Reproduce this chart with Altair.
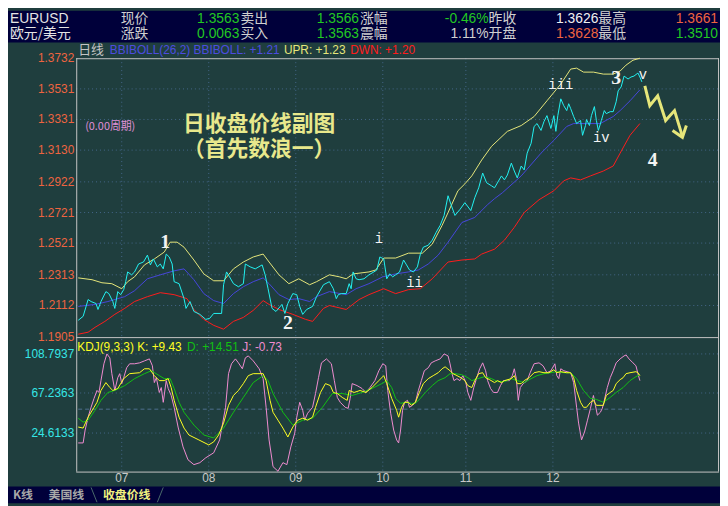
import altair as alt
import pandas as pd

# ---------------- data ----------------
close_day = [0, 1.25, 2.5, 3.25, 4.5, 5, 5.75, 7, 7.75, 8.75,
             9.25, 10, 10.75, 11.5, 12, 12.5, 13.5, 14.25, 15.25, 16.5,
             17.5, 18.25, 19, 20, 20.75, 21.5, 22.25, 23, 23.75, 24.25,
             25.5, 26.75, 27.25, 28.25, 29.25, 30.75, 32.25, 33.25, 34.25, 36.25,
             36.75, 37.5, 38.25, 39.25, 40.5, 41.75, 42.25, 43.5, 44.75, 46.5,
             47.25, 48, 49, 50, 51.5, 52.25, 53, 54.25, 55.25, 56,
             56.75, 57.75, 59.25, 60.25, 62, 63.5, 64.5, 65.25, 65.75, 66.5,
             67.75, 68.5, 69, 69.5, 70.25, 71, 72.25, 73.5, 74.75, 75.5,
             76.25, 77.25, 78, 78.75, 79.5, 80.25, 81.25, 82.25, 83, 83.75,
             84.75, 85.75, 86.5, 87.25, 88.5, 89.5, 90.5, 91.5, 92.5, 93.5,
             94.25, 95.25, 96.5, 97.75, 99.25, 100.25, 101.25, 102.25, 103.25, 104.5,
             105.25, 107, 107.75, 108.5, 109.5, 110.25, 111, 112, 112.75, 113.5,
             114.5, 115.25, 116, 117, 117.75, 118.5, 119.5, 120.25, 120.75, 121.25,
             122, 122.75, 123.5, 124, 124.5, 125.25, 126, 127, 127.5, 128.25,
             128.5, 129.25, 129.75, 130.5, 131, 131.5, 132.25, 133, 133.5, 134.5,
             135.25, 136, 136.5, 137.25, 138, 139, 139.75, 140.5, 141.5, 142,
             142.5]
close_px = [1.2015, 1.2041, 1.2151, 1.2138, 1.2125, 1.2086, 1.2138, 1.2203, 1.2190, 1.2138,
            1.2093, 1.2203, 1.2183, 1.2216, 1.2268, 1.2332, 1.2313, 1.2332, 1.2384, 1.2397,
            1.2442, 1.2378, 1.2417, 1.2365, 1.2384, 1.2352, 1.2449, 1.2430, 1.2384, 1.2268,
            1.2255, 1.2157, 1.2093, 1.2138, 1.2073, 1.2054, 1.2021, 1.2028, 1.2060, 1.2060,
            1.2248, 1.2332, 1.2300, 1.2255, 1.2235, 1.2255, 1.2384, 1.2365, 1.2352, 1.2378,
            1.2313, 1.2222, 1.2093, 1.2073, 1.2119, 1.2060, 1.2125, 1.2190, 1.2183, 1.2106,
            1.2054, 1.2086, 1.2106, 1.2170, 1.2248, 1.2268, 1.2222, 1.2157, 1.2183, 1.2190,
            1.2190, 1.2255, 1.2222, 1.2332, 1.2287, 1.2281, 1.2287, 1.2313, 1.2332, 1.2345,
            1.2430, 1.2417, 1.2287, 1.2319, 1.2300, 1.2313, 1.2332, 1.2410, 1.2378, 1.2345,
            1.2332, 1.2365, 1.2449, 1.2494, 1.2507, 1.2540, 1.2592, 1.2637, 1.2702, 1.2831,
            1.2773, 1.2702, 1.2741, 1.2786, 1.2734, 1.2818, 1.2883, 1.2980, 1.2916, 1.2896,
            1.2883, 1.2961, 1.2935, 1.2967, 1.3045, 1.2993, 1.2948, 1.3026, 1.3000, 1.3110,
            1.3175, 1.3285, 1.3304, 1.3259, 1.3317, 1.3356, 1.3272, 1.3356, 1.3253, 1.3356,
            1.3466, 1.3421, 1.3389, 1.3434, 1.3402, 1.3350, 1.3304, 1.3324, 1.3227, 1.3291,
            1.3330, 1.3291, 1.3356, 1.3415, 1.3324, 1.3259, 1.3324, 1.3389, 1.3369, 1.3382,
            1.3382, 1.3447, 1.3518, 1.3544, 1.3615, 1.3596, 1.3609, 1.3615, 1.3635, 1.3609,
            1.3577]

upr_day = [0, 3.5, 6, 8.5, 11, 12.5, 14.25, 16.75, 19.25, 21.75,
           23.25, 25, 26.75, 29.25, 31.75, 34.25, 36.75, 39.25, 41.75, 44.25,
           46.75, 48.25, 50.75, 53.25, 55.75, 58.5, 60.25, 63.5, 66, 67.75,
           69.5, 73.5, 75.25, 77.25, 80.25, 83.5, 87, 89.5, 92, 93.5,
           96, 97.75, 99.5, 102, 104.5, 108.5, 112, 115.25, 118.5, 122,
           124.5, 126, 127.75, 130.25, 132.75, 135.25, 137, 138.5, 140.25, 142]
upr_px = [1.2293, 1.2281, 1.2261, 1.2255, 1.2222, 1.2268, 1.2300, 1.2378, 1.2417, 1.2462,
          1.2527, 1.2527, 1.2494, 1.2410, 1.2319, 1.2274, 1.2274, 1.2352, 1.2397, 1.2430,
          1.2449, 1.2397, 1.2313, 1.2255, 1.2287, 1.2248, 1.2268, 1.2313, 1.2300, 1.2287,
          1.2319, 1.2332, 1.2345, 1.2423, 1.2423, 1.2455, 1.2455, 1.2514, 1.2637, 1.2721,
          1.2864, 1.2909, 1.2961, 1.3065, 1.3155, 1.3253, 1.3291, 1.3350, 1.3453, 1.3563,
          1.3661, 1.3667, 1.3641, 1.3641, 1.3628, 1.3628, 1.3648, 1.3687, 1.3719, 1.3732]

mid_day = [0, 4.25, 7.5, 11.75, 14.25, 17.5, 20.75, 24.25, 26.75, 29.25,
           31.75, 34.25, 36.75, 39.25, 41.75, 44.25, 46.75, 48.25, 50.75, 53.25,
           55.75, 58.5, 60.25, 63.5, 67.75, 70.25, 73.5, 77, 80.25, 83.5,
           86, 88.5, 91, 93.5, 97, 100.25, 103.5, 105.25, 107.25, 112,
           117, 120.25, 123.5, 125.25, 128.5, 132, 135.25, 137, 139.5, 142]
mid_px = [1.2106, 1.2119, 1.2138, 1.2170, 1.2209, 1.2287, 1.2313, 1.2339, 1.2352, 1.2281,
          1.2190, 1.2144, 1.2125, 1.2190, 1.2235, 1.2268, 1.2293, 1.2255, 1.2183, 1.2151,
          1.2157, 1.2138, 1.2170, 1.2203, 1.2183, 1.2222, 1.2255, 1.2300, 1.2319, 1.2332,
          1.2345, 1.2384, 1.2442, 1.2527, 1.2656, 1.2689, 1.2773, 1.2812, 1.2851, 1.2961,
          1.3110, 1.3194, 1.3285, 1.3304, 1.3304, 1.3304, 1.3350, 1.3389, 1.3453, 1.3525]

dwn_day = [0, 2.5, 4.25, 6.75, 9.25, 11.75, 14.25, 17.5, 20.75, 24.25,
           27.5, 29.25, 31.75, 34.25, 36.75, 39.25, 41.75, 44.25, 46.75, 48.25,
           50.75, 54.25, 57.5, 59.25, 62, 63.5, 67.75, 71, 73.5, 77.25,
           80.25, 83.5, 86.5, 89.5, 93.5, 97, 100.25, 102, 105.25, 107.75,
           110.25, 112.75, 116.5, 120.25, 122.75, 124.5, 127, 129.5, 132.75, 135.25,
           137, 139.5, 142]
dwn_px = [1.1924, 1.1937, 1.1969, 1.2008, 1.2054, 1.2093, 1.2138, 1.2170, 1.2196, 1.2183,
          1.2157, 1.2086, 1.2021, 1.1982, 1.1957, 1.2008, 1.2034, 1.2080, 1.2144, 1.2119,
          1.2086, 1.2054, 1.2021, 1.2008, 1.2093, 1.2112, 1.2086, 1.2151, 1.2183, 1.2222,
          1.2190, 1.2216, 1.2222, 1.2287, 1.2397, 1.2410, 1.2417, 1.2449, 1.2481, 1.2540,
          1.2624, 1.2721, 1.2805, 1.2864, 1.2929, 1.2948, 1.2935, 1.2961, 1.2993, 1.3026,
          1.3110, 1.3227, 1.3304]

k_pts = [(0, 31.0), (1.25, 29.9), (2.5, 41.5), (4, 52.0), (4.75, 57.3), (5.75, 69.9), (7, 78.3),
         (8, 73.0), (8.75, 69.9), (10, 72.0), (11.5, 82.5), (13, 87.8), (15.5, 88.8), (16.75, 93.0),
         (18, 93.0), (19.25, 85.7), (20.5, 80.4), (21.75, 80.4), (22.75, 82.5), (23.5, 73.0),
         (24.25, 59.4), (25.5, 41.5), (26.75, 29.9), (28, 22.5), (30.5, 17.3), (33, 12.0),
         (34.25, 15.2), (35.5, 22.5), (36.75, 35.2), (38, 54.1), (39.25, 64.6), (40.5, 69.9),
         (41.75, 77.2), (43, 85.7), (44.25, 87.8), (46.75, 87.8), (47.5, 80.4), (48.5, 59.4),
         (49.25, 46.7), (50.5, 38.3), (51.75, 29.9), (53, 20.4), (54.25, 31.0), (55.5, 38.3),
         (56.75, 40.4), (58, 38.3), (59.25, 41.5), (60, 52.0), (61.25, 67.8), (62.5, 77.2),
         (63.75, 75.1), (64.5, 67.8), (65.5, 66.7), (66.75, 62.5), (68, 59.4), (68.5, 69.9),
         (69.75, 67.8), (71.25, 69.9), (72.75, 67.8), (74.25, 73.0), (76, 80.4), (77.25, 85.7),
         (78, 77.2), (79.25, 61.5), (80.5, 48.8), (81, 41.5), (81.75, 52.0), (82.5, 57.3),
         (83.5, 57.3), (84.25, 54.1), (85.25, 57.3), (86.25, 67.8), (87.25, 77.2), (88.5, 82.5),
         (89.75, 85.7), (91, 88.8), (92, 93.0), (92.75, 95.1), (94, 90.9), (94.75, 87.8),
         (95.75, 85.7), (96.75, 83.5), (97.75, 80.4), (98.5, 75.1), (99.5, 73.0), (100.25, 80.4),
         (101.25, 87.8), (102.25, 88.8), (103, 83.5), (104, 81.4), (105.25, 78.3), (106, 80.4),
         (107, 78.3), (107.75, 80.4), (109.5, 82.5), (110.25, 85.7), (111, 77.2), (112, 77.2),
         (112.75, 80.4), (114, 83.5), (115.25, 88.8), (116.5, 89.9), (117.75, 88.8), (119, 88.8),
         (120.25, 92.0), (121, 88.8), (122, 89.9), (123.5, 88.8), (124.5, 88.8), (125.25, 83.5),
         (126, 69.9), (127, 57.3), (127.75, 52.0), (128.5, 52.0), (129.5, 57.3), (130.25, 59.4),
         (131, 54.1), (132.75, 54.1), (133.5, 64.6), (134.5, 67.8), (135.25, 69.9), (136, 77.2),
         (137, 81.4), (137.75, 83.5), (138.5, 87.8), (139.5, 88.8), (141, 89.9), (141.5, 88.8),
         (142, 85.7)]

d_pts = [(0, 40.4), (1.25, 36.2), (2.5, 38.3), (4.25, 48.8), (5.75, 59.4), (7.5, 67.8), (9.25, 69.9),
         (11.75, 75.1), (14.25, 82.5), (16.75, 87.8), (18.5, 90.9), (20.5, 85.7), (21.75, 82.5),
         (23.25, 82.5), (24.25, 72.0), (25.5, 57.3), (26.75, 46.7), (29.25, 33.1), (31.75, 22.5),
         (34.25, 19.4), (36.75, 29.9), (39.25, 46.7), (41.75, 62.5), (44.25, 78.3), (46.75, 85.7),
         (48, 80.4), (49.25, 66.7), (51.75, 46.7), (54.25, 33.1), (56.75, 38.3), (59.25, 40.4),
         (61.75, 52.0), (64.25, 66.7), (66.75, 66.7), (69.25, 64.6), (71.75, 67.8), (74.25, 72.0),
         (76.75, 77.2), (78, 80.4), (79.25, 73.0), (80.25, 61.5), (81.5, 56.2), (82.75, 57.3),
         (84.25, 56.2), (85.25, 56.2), (86.5, 61.5), (87.75, 67.8), (89.5, 75.1), (91, 80.4),
         (92.75, 83.5), (94, 87.8), (95.25, 87.8), (97, 86.7), (98.5, 83.5), (99.5, 80.4),
         (101, 82.5), (102.75, 84.6), (104.5, 82.5), (106, 79.3), (107.75, 79.3), (109.5, 82.5),
         (111, 80.4), (112.75, 78.3), (114.5, 82.5), (116, 85.7), (117.75, 87.8), (119.5, 88.8),
         (121, 89.9), (122.75, 88.8), (124.5, 88.8), (126, 82.5), (127.75, 69.9), (129.5, 61.5),
         (131, 60.4), (132.75, 57.3), (134.5, 62.5), (136, 67.8), (137.75, 73.0), (139.5, 80.4),
         (141, 84.6), (142, 86.7)]

j_pts = [(0, 14.1), (1.25, 14.1), (1.75, 27.8), (2.5, 41.5), (3.25, 52.0), (4, 61.5), (4.75, 69.9),
         (5.25, 67.8), (5.75, 80.4), (6.5, 98.3), (7.25, 108.8), (8, 104.6), (8.5, 87.8), (9.25, 69.9),
         (10, 83.5), (10.5, 87.8), (11, 77.2), (11.5, 83.5), (12.25, 94.1), (13, 98.3), (14.25, 98.3),
         (15.5, 99.3), (16.75, 101.4), (18, 103.5), (18.75, 96.2), (19.25, 78.3), (19.75, 83.5),
         (20.5, 67.8), (21, 73.0), (21.5, 57.3), (22.25, 80.4), (22.75, 72.0), (23.5, 64.6),
         (24.25, 52.0), (25.25, 31.0), (26.5, 9.9), (27.75, -3.8), (29.25, -9.0), (30.75, -6.9),
         (32.25, -1.7), (34.25, 3.6), (35.75, 17.3), (37.25, 52.0), (38, 87.8), (38.75, 98.3),
         (39.75, 103.5), (40.5, 99.3), (41.5, 93.0), (42.25, 104.6), (43, 106.7), (44.25, 101.4),
         (45.75, 93.0), (46.75, 82.5), (47.5, 52.0), (48.25, 17.3), (49.25, -11.1), (50.5, -16.0),
         (51.75, -6.9), (52.75, -9.0), (53.75, 9.9), (54.75, 24.6), (55.25, 41.5), (56, 57.3),
         (56.75, 48.8), (57.25, 38.3), (58, 45.7), (59.25, 52.0), (60, 66.7), (60.75, 83.5),
         (61.5, 99.3), (62.75, 103.5), (64, 98.3), (64.75, 80.4), (65.5, 62.5), (66.25, 57.3),
         (67.5, 52.0), (68.25, 50.9), (68.75, 61.5), (69.25, 77.2), (70.5, 75.1), (71.75, 72.0),
         (72.75, 67.8), (73.75, 73.0), (75, 80.4), (76, 90.9), (77, 98.3), (77.75, 96.2),
         (78.25, 69.9), (79, 45.7), (79.75, 27.8), (80.5, 17.3), (81, 14.1), (81.5, 27.8),
         (82, 48.8), (82.5, 57.3), (83.25, 59.4), (83.75, 52.0), (84.5, 54.1), (85.25, 57.3),
         (86, 69.9), (86.75, 80.4), (87.5, 90.9), (88.5, 94.1), (89.25, 99.3), (90.25, 101.4),
         (91.5, 103.5), (92.5, 108.8), (93.5, 106.7), (94, 98.3), (94.5, 87.8), (95, 80.4),
         (95.75, 82.5), (96.5, 80.4), (97.25, 85.7), (98, 78.3), (98.5, 67.8), (99.25, 59.4),
         (100, 73.0), (100.75, 83.5), (101.5, 93.0), (102.25, 99.3), (103, 90.9), (103.5, 80.4),
         (104.25, 72.0), (105, 67.8), (106, 67.8), (106.75, 75.1), (107.5, 80.4), (109, 80.4),
         (109.75, 85.7), (110.25, 93.0), (110.75, 82.5), (111.25, 59.4), (111.75, 73.0),
         (112.5, 77.2), (113.5, 80.4), (114.25, 88.8), (115.25, 98.3), (116.5, 99.3), (117.5, 96.2),
         (118.5, 88.8), (119.5, 90.9), (120.5, 98.3), (121, 85.7), (121.5, 82.5), (122, 93.0),
         (122.75, 90.9), (124.5, 88.8), (125.25, 78.3), (126, 52.0), (126.5, 35.2), (127.25, 17.3),
         (128, 25.7), (128.75, 38.3), (129.5, 50.9), (130.25, 64.6), (130.75, 54.1), (131.25, 43.6),
         (132, 46.7), (132.5, 50.9), (133, 59.4), (133.75, 73.0), (134.5, 83.5), (135.25, 90.9),
         (136, 99.3), (137, 103.5), (138, 106.7), (138.5, 107.7), (139.25, 103.5), (140.25, 99.3),
         (141, 96.2), (141.5, 87.8), (142, 80.4)]

kdj_mid_line = 50
kdj_mid_span = [0, 142]

price_ticks = [1.1905, 1.2112, 1.2313, 1.2521, 1.2721, 1.2922, 1.3130, 1.3331, 1.3531, 1.3732]
kdj_ticks = [24.6133, 67.2363, 108.7937]
month_days = [11, 33, 55, 77, 98, 120]
month_labels = ["07", "08", "09", "10", "11", "12"]

wave_text = ["1", "2", "3", "4"]
wave_day = [22, 53, 136, 145.25]
wave_px = [1.2527, 1.1995, 1.3602, 1.3065]
sub_text = ["i", "ii", "iii", "iv", "v"]
sub_day = [76, 85, 122, 132.25, 142.75]
sub_px = [1.2546, 1.2261, 1.3557, 1.3207, 1.3622]

proj_day = [143.25, 144.5, 146.5, 148.5, 150.75, 152.75]
proj_px = [1.3551, 1.3421, 1.3486, 1.3324, 1.3389, 1.3220]
head_day = [150.25, 152.75, 153.75]
head_px = [1.3259, 1.3214, 1.3291]

quote_row1_names = ["现价", "卖出", "涨幅", "昨收", "最高"]
quote_row1_values = ["1.3563", "1.3566", "-0.46%", "1.3626", "1.3661"]
quote_row2_names = ["涨跌", "买入", "震幅", "开盘", "最低"]
quote_row2_values = ["0.0063", "1.3563", "1.11%", "1.3628", "1.3510"]

# ---------------- layout & style ----------------
W, H = 720, 498
X0, X1 = 69, 719
P_TOP, P_BOT = 48, 330
K_TOP, K_BOT = 330, 466
HEAD_H = 32
ROW1, ROW2 = 8, 24

TEAL = "#1f3e3e"
NAVY = "#00003a"
GRID = "#45678a"
BORDER = "#c4c4c4"
ORANGE = "#ee6440"
GREEN = "#22c822"
WHITE = "#f0f0f0"
LGRAY = "#d0d0d0"
CYAN = "#22f2f2"
YEL = "#e6e67a"
BLUE = "#4646dc"
RED = "#ff1c1c"
KCOL = "#ffff22"
DCOL = "#12c012"
JCOL = "#f08cd0"
LAT = "Liberation Sans"
CJK = "Noto Sans CJK SC"

xs = alt.Scale(domain=[-0.5, 162], range=[X0, X1])
ps = alt.Scale(domain=[1.1905, 1.3732], range=[P_BOT, P_TOP], zero=False, nice=False)
ks = alt.Scale(domain=[-16.4, 126.7], range=[K_BOT, K_TOP], zero=False, nice=False)

one = pd.DataFrame({"a": [0]})


def txt(s, x, y, color, size=12, align="left", font=LAT, weight="normal"):
    return alt.Chart(one).mark_text(
        text=s, align=align, baseline="middle", color=color,
        fontSize=size, font=font, fontWeight=weight
    ).encode(x=alt.value(x), y=alt.value(y))


def seg(x1, y1, x2, y2, color, width=1, dash=None):
    kw = {"color": color, "strokeWidth": width}
    if dash:
        kw["strokeDash"] = dash
    return alt.Chart(one).mark_rule(**kw).encode(
        x=alt.value(x1), y=alt.value(y1), x2=alt.value(x2), y2=alt.value(y2))


def rect(x1, y1, x2, y2, color):
    return alt.Chart(one).mark_rect(color=color).encode(
        x=alt.value(x1), y=alt.value(y1), x2=alt.value(x2), y2=alt.value(y2))


def series(days, vals, color, scale, width=1.0):
    df = pd.DataFrame({"day": days, "v": vals})
    return alt.Chart(df).mark_line(color=color, strokeWidth=width).encode(
        x=alt.X("day:Q", scale=xs, axis=None),
        y=alt.Y("v:Q", scale=scale, axis=None))


layers = []
# backgrounds
layers.append(rect(0, 0, W, HEAD_H, NAVY))
layers.append(rect(0, 481, W, H, NAVY))

# grid lines
layers.append(alt.Chart(pd.DataFrame({"p": price_ticks[1:-1]})).mark_rule(
    color=GRID, strokeDash=[1, 3]).encode(
    y=alt.Y("p:Q", scale=ps, axis=None), x=alt.value(X0), x2=alt.value(X1)))
layers.append(alt.Chart(pd.DataFrame({"p": kdj_ticks})).mark_rule(
    color=GRID, strokeDash=[1, 3]).encode(
    y=alt.Y("p:Q", scale=ks, axis=None), x=alt.value(X0), x2=alt.value(X1)))
layers.append(alt.Chart(pd.DataFrame({"day": month_days})).mark_rule(
    color=GRID, strokeDash=[1, 3]).encode(
    x=alt.X("day:Q", scale=xs, axis=None), y=alt.value(P_TOP), y2=alt.value(K_BOT)))
layers.append(alt.Chart(pd.DataFrame({"d0": [kdj_mid_span[0]], "d1": [kdj_mid_span[1]],
                                      "v": [kdj_mid_line]})).mark_rule(
    color="#4f6f8f", strokeDash=[4, 3]).encode(
    x=alt.X("d0:Q", scale=xs, axis=None), x2="d1:Q",
    y=alt.Y("v:Q", scale=ks, axis=None)))

# frame
layers.append(seg(X0, P_TOP + 0.5, X1, P_TOP + 0.5, BORDER))
layers.append(seg(X0, P_BOT + 0.5, X1, P_BOT + 0.5, BORDER))
layers.append(seg(X0, K_BOT + 0.5, X1, K_BOT + 0.5, BORDER))
layers.append(seg(X0 + 0.5, P_TOP, X0 + 0.5, K_BOT, BORDER))
layers.append(seg(X1 - 0.5, P_TOP, X1 - 0.5, K_BOT, BORDER))

# price series
layers.append(series(upr_day, upr_px, YEL, ps))
layers.append(series(mid_day, mid_px, BLUE, ps))
layers.append(series(dwn_day, dwn_px, RED, ps))
layers.append(series(close_day, close_px, CYAN, ps))

# KDJ series
layers.append(series([p[0] for p in j_pts], [p[1] for p in j_pts], JCOL, ks))
layers.append(series([p[0] for p in d_pts], [p[1] for p in d_pts], DCOL, ks))
layers.append(series([p[0] for p in k_pts], [p[1] for p in k_pts], KCOL, ks))

# projection arrow
layers.append(series(proj_day, proj_px, YEL, ps, width=3))
layers.append(series(head_day, head_px, YEL, ps, width=3))

# axis labels
layers.append(alt.Chart(pd.DataFrame({"p": price_ticks, "lab": [f"{v:.4f}" for v in price_ticks]}))
              .mark_text(align="right", baseline="middle", color=ORANGE, fontSize=12, font=LAT)
              .encode(y=alt.Y("p:Q", scale=ps, axis=None), x=alt.value(67), text="lab:N"))
layers.append(alt.Chart(pd.DataFrame({"p": kdj_ticks, "lab": [f"{v:.4f}" for v in kdj_ticks]}))
              .mark_text(align="right", baseline="middle", color="#36e6e6", fontSize=12, font=LAT)
              .encode(y=alt.Y("p:Q", scale=ks, axis=None), x=alt.value(67), text="lab:N"))
layers.append(alt.Chart(pd.DataFrame({"day": month_days, "lab": month_labels}))
              .mark_text(align="center", baseline="middle", color="#c8c8c8", fontSize=12, font=LAT)
              .encode(x=alt.X("day:Q", scale=xs, axis=None), y=alt.value(473), text="lab:N"))

# wave annotations
layers.append(alt.Chart(pd.DataFrame({"day": wave_day, "p": wave_px, "t": wave_text}))
              .mark_text(align="center", baseline="middle", color="#f4f4f4", fontSize=20,
                         font="Liberation Serif", fontWeight="bold")
              .encode(x=alt.X("day:Q", scale=xs, axis=None),
                      y=alt.Y("p:Q", scale=ps, axis=None), text="t:N"))
layers.append(alt.Chart(pd.DataFrame({"day": sub_day, "p": sub_px, "t": sub_text}))
              .mark_text(align="center", baseline="middle", color="#f4f4f4", fontSize=14,
                         font="Liberation Mono")
              .encode(x=alt.X("day:Q", scale=xs, axis=None),
                      y=alt.Y("p:Q", scale=ps, axis=None), text="t:N"))

# legends
layers.append(txt("日线", 71, 40, "#c4c4c4", 13, font=CJK))
layers.append(txt("BBIBOLL(26,2) BBIBOLL: +1.21", 103, 40, "#4c4ce0", 12))
layers.append(txt("UPR: +1.23", 279, 40, YEL, 12))
layers.append(txt("DWN: +1.20", 346, 40, RED, 12))
layers.append(txt("KDJ(9,3,3) K: +9.43", 70, 340, KCOL, 12))
layers.append(txt("D: +14.51", 181, 340, DCOL, 12))
layers.append(txt("J: -0.73", 237, 340, JCOL, 12))

# caption texts
layers.append(txt("日收盘价线副图", 254, 115, "#e8e88c", 22, align="center", font=CJK, weight="bold"))
layers.append(txt("（首先数浪一）", 254, 140, "#e8e88c", 22, align="center", font=CJK, weight="bold"))
layers.append(txt("(0.00周期)", 78, 118, "#e090d8", 11, font=CJK))

# header quote board
layers.append(txt("EURUSD", 2, ROW1, "#e4e4e4", 14))
layers.append(txt("欧元/美元", 2, ROW2, "#e4e4e4", 14, font=CJK))
name_x = [114, 235, 356, 486, 597]
value_right = [234, 355, 486, 597, 718]
row1_colors = [GREEN, GREEN, GREEN, WHITE, ORANGE]
row2_colors = [GREEN, GREEN, LGRAY, ORANGE, GREEN]
for i in range(5):
    layers.append(txt(quote_row1_names[i], name_x[i], ROW1, LGRAY, 14, font=CJK))
    layers.append(txt(quote_row1_values[i], value_right[i], ROW1, row1_colors[i], 14, align="right"))
    layers.append(txt(quote_row2_names[i], name_x[i], ROW2, LGRAY, 14, font=CJK))
    layers.append(txt(quote_row2_values[i], value_right[i], ROW2, row2_colors[i], 14, align="right"))

# bottom tabs
layers.append(txt("K线", 5, 490, "#a8a8a8", 12, font=CJK, weight="bold"))
layers.append(txt("美国线", 41, 490, "#a8a8a8", 12, font=CJK, weight="bold"))
layers.append(txt("收盘价线", 96, 490, "#f2f27e", 12, font=CJK, weight="bold"))
layers.append(seg(84, 482, 90, 497, "#4a6a6a"))
layers.append(seg(151, 497, 157, 482, "#4a6a6a"))

chart = alt.layer(*layers).resolve_scale(y="independent").properties(
    width=W, height=H, padding=0, autosize=alt.AutoSizeParams(type="none")
).configure(background=TEAL).configure_view(stroke=None)

chart.save("out.html", embed_options={"renderer": "svg", "actions": False})
